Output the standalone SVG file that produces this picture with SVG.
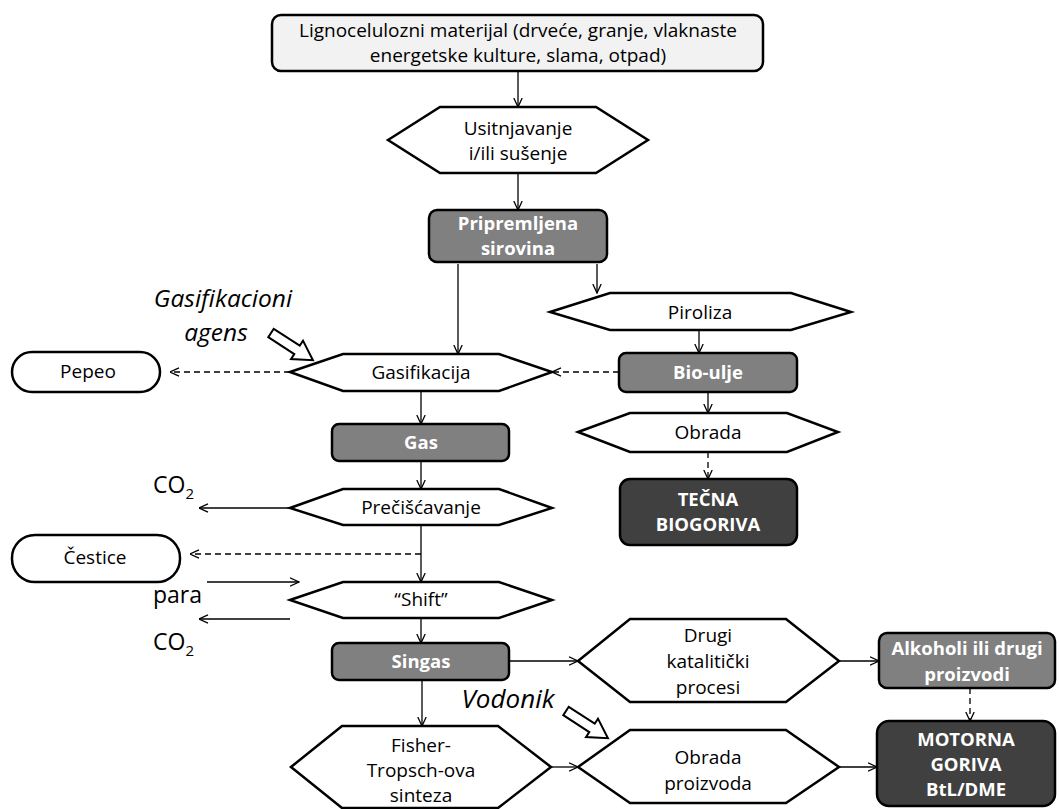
<svg xmlns="http://www.w3.org/2000/svg" width="1059" height="809" viewBox="0 0 1059 809">
<defs>
<marker id="ah" viewBox="0 0 10 10" refX="9.5" refY="5" markerWidth="10" markerHeight="10" markerUnits="userSpaceOnUse" orient="auto">
<path d="M0.5,0.8 L9.5,5 L0.5,9.2" fill="none" stroke="#000" stroke-width="1.3"/>
</marker>
<path id="blk" d="M0,-5 L31,-5 L31,-11 L50,0 L31,11 L31,5 L0,5 Z"/>
</defs>
<style>
.hex{fill:#fff;stroke:#000;stroke-width:2.5;stroke-linejoin:miter}
.box{stroke:#000;stroke-width:2.5}
.g1{fill:#808080}
.g2{fill:#404040}
.lt{fill:#f2f2f2}
.pill{fill:#fff;stroke:#000;stroke-width:2.5}
.c{fill:none;stroke:#000;stroke-width:1.3;marker-end:url(#ah)}
.d{stroke-dasharray:6,4}
text{font-family:"Open Sans","Liberation Sans",sans-serif;font-size:19px;fill:#000;text-anchor:middle}
.w{fill:#fff;font-weight:bold;font-size:18.5px}
.it{font-style:italic;font-size:24.5px}
.it2{font-style:italic;font-size:26px}
.big{font-size:23px;text-anchor:start}
.sub{font-size:15px;text-anchor:start}
.blk{fill:#fff;stroke:#000;stroke-width:2}
</style>
<g id="connectors">
<path class="c" d="M518,71 V107"/>
<path class="c" d="M518,173 V210"/>
<path class="c" d="M458,264 V354"/>
<path class="c" d="M597,264 V293"/>
<path class="c" d="M699,330 V353"/>
<path class="c" d="M708,392 V413"/>
<path class="c d" d="M708,452 V479"/>
<path class="c d" d="M619,372 H552"/>
<path class="c d" d="M290,372 H170"/>
<path class="c" d="M421,391 V424"/>
<path class="c" d="M421,461 V489"/>
<path class="c" d="M290,508 H199"/>
<path class="c" d="M421,525 V582"/>
<path class="c d" d="M421,554 H190"/>
<path class="c" d="M207,582 H299"/>
<path class="c" d="M290,619 H199"/>
<path class="c" d="M421,618 V643"/>
<path class="c" d="M509,661 H578"/>
<path class="c" d="M839,661 H879"/>
<path class="c d" d="M970,688 V721"/>
<path class="c" d="M422,680 V726"/>
<path class="c" d="M551,767 H578"/>
<path class="c" d="M839,767 H877"/>
</g>
<g id="n-lignoceluloza">
<rect class="box lt" x="272" y="15" width="491" height="56" rx="9"/>
<text x="518" y="37">Lignocelulozni materijal (drveće, granje, vlaknaste</text>
<text x="518" y="62">energetske kulture, slama, otpad)</text>
</g>
<g id="n-usitnjavanje">
<polygon class="hex" points="388,140 440,107 596,107 648,140 596,173 440,173"/>
<text x="518" y="135">Usitnjavanje</text>
<text x="518" y="160">i/ili sušenje</text>
</g>
<g id="n-sirovina">
<rect class="box g1" x="429" y="210" width="178" height="52" rx="8"/>
<text class="w" x="518" y="230">Pripremljena</text>
<text class="w" x="518" y="255">sirovina</text>
</g>
<g id="n-piroliza">
<polygon class="hex" points="550,312 610,293 791,293 851,312 791,330 610,330"/>
<text x="700" y="319">Piroliza</text>
</g>
<g id="n-bioulje">
<rect class="box g1" x="619" y="353" width="178" height="39" rx="7"/>
<text class="w" x="708" y="379">Bio-ulje</text>
</g>
<g id="n-obrada">
<polygon class="hex" points="578,432 630,413 787,413 838,432 787,452 630,452"/>
<text x="708" y="439">Obrada</text>
</g>
<g id="n-tecna">
<rect class="box g2" x="620" y="479" width="177" height="66" rx="10"/>
<text class="w" x="708" y="506">TEČNA</text>
<text class="w" x="708" y="531">BIOGORIVA</text>
</g>
<g id="n-gasifikacioni-agens">
<text class="it" x="223" y="307">Gasifikacioni</text>
<text class="it" x="216" y="341">agens</text>
<use href="#blk" class="blk" transform="translate(271,333) rotate(33)"/>
</g>
<g id="n-pepeo">
<rect class="pill" x="12" y="352" width="148" height="40" rx="20"/>
<text x="88" y="378">Pepeo</text>
</g>
<g id="n-gasifikacija">
<polygon class="hex" points="290,372 343,354 499,354 552,372 499,391 343,391"/>
<text x="421" y="379">Gasifikacija</text>
</g>
<g id="n-gas">
<rect class="box g1" x="332" y="424" width="177" height="37" rx="7"/>
<text class="w" x="421" y="449">Gas</text>
</g>
<g id="n-co2a">
<text class="big" x="153" y="493">CO<tspan class="sub" dy="6">2</tspan></text>
</g>
<g id="n-preciscavanje">
<polygon class="hex" points="290,508 343,489 499,489 552,508 499,525 343,525"/>
<text x="421" y="514">Prečišćavanje</text>
</g>
<g id="n-cestice">
<rect class="pill" x="12" y="535" width="168" height="47" rx="23"/>
<text x="95" y="564">Čestice</text>
</g>
<g id="n-para">
<text class="big" x="153" y="603">para</text>
</g>
<g id="n-co2b">
<text class="big" x="153" y="650">CO<tspan class="sub" dy="6">2</tspan></text>
</g>
<g id="n-shift">
<polygon class="hex" points="290,600 343,582 499,582 552,600 499,618 343,618"/>
<text x="421" y="606">“Shift”</text>
</g>
<g id="n-singas">
<rect class="box g1" x="332" y="643" width="177" height="37" rx="7"/>
<text class="w" x="421" y="668">Singas</text>
</g>
<g id="n-drugi">
<polygon class="hex" points="578,661 630,619 786,619 839,661 786,702 630,702"/>
<text x="708" y="642">Drugi</text>
<text x="708" y="668">katalitički</text>
<text x="708" y="694">procesi</text>
</g>
<g id="n-alkoholi">
<rect class="box g1" x="879" y="633" width="176" height="55" rx="8"/>
<text class="w" x="967" y="655">Alkoholi ili drugi</text>
<text class="w" x="967" y="681">proizvodi</text>
</g>
<g id="n-vodonik">
<text class="it2" x="508" y="708">Vodonik</text>
<use href="#blk" class="blk" transform="translate(566,711) rotate(33)"/>
</g>
<g id="n-fisher">
<polygon class="hex" points="291,767 342,726 498,726 551,767 498,808 342,808"/>
<text x="421" y="752">Fisher-</text>
<text x="421" y="777">Tropsch-ova</text>
<text x="421" y="802">sinteza</text>
</g>
<g id="n-obrada-proizvoda">
<polygon class="hex" points="578,767 630,730 786,730 839,767 786,803 630,803"/>
<text x="708" y="764">Obrada</text>
<text x="708" y="790">proizvoda</text>
</g>
<g id="n-motorna">
<rect class="box g2" x="877" y="721" width="178" height="85" rx="12"/>
<text class="w" x="966" y="746">MOTORNA</text>
<text class="w" x="966" y="771">GORIVA</text>
<text class="w" x="966" y="796">BtL/DME</text>
</g>
</svg>
